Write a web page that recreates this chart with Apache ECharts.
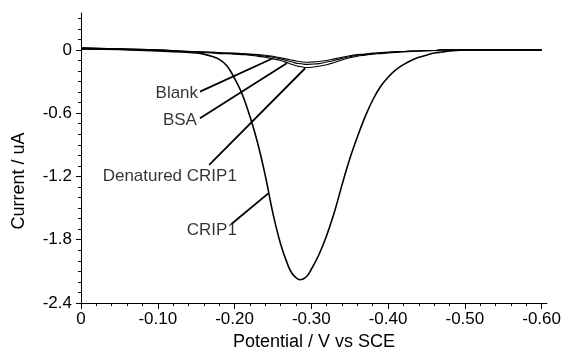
<!DOCTYPE html>
<html>
<head>
<meta charset="utf-8">
<script src="https://cdn.jsdelivr.net/npm/echarts@6/dist/echarts.min.js"></script>
<style>
  html, body { margin: 0; padding: 0; background: #fff; }
  #chart { width: 563px; height: 357px; }
</style>
</head>
<body>
<div id="chart"></div>
<script>
// potential (V vs SCE)
const potential = [0, -0.05, -0.10, -0.13, -0.15, -0.16, -0.17, -0.18, -0.19, -0.20,
  -0.21, -0.22, -0.23, -0.24, -0.25, -0.26, -0.27, -0.275, -0.28, -0.285, -0.29, -0.295,
  -0.30, -0.31, -0.32, -0.33, -0.34, -0.35, -0.36, -0.37, -0.38, -0.39,
  -0.40, -0.41, -0.42, -0.43, -0.44, -0.45, -0.46, -0.47, -0.48, -0.50,
  -0.55, -0.60];

// current (uA)
const crip1 = [0.01, 0.005, -0.01, -0.02, -0.03, -0.04, -0.06, -0.09, -0.15, -0.27,
  -0.42, -0.63, -0.88, -1.19, -1.55, -1.84, -2.05, -2.12, -2.16, -2.18, -2.17, -2.14,
  -2.08, -1.94, -1.76, -1.54, -1.28, -1.035, -0.825, -0.635, -0.475, -0.35,
  -0.26, -0.19, -0.14, -0.10, -0.07, -0.05, -0.03, -0.02, -0.01, 0,
  0, 0];
const blank = [0.02, 0.01, 0, -0.01, -0.015, -0.02, -0.02, -0.025, -0.03, -0.03,
  -0.035, -0.04, -0.045, -0.05, -0.06, -0.075, -0.09, -0.098, -0.105, -0.11, -0.115, -0.117,
  -0.115, -0.11, -0.10, -0.085, -0.07, -0.055, -0.045, -0.04, -0.03, -0.025,
  -0.02, -0.015, -0.015, -0.01, -0.01, -0.005, -0.005, 0, 0, 0,
  0, 0];
const bsa = [0.02, 0.01, 0, -0.01, -0.02, -0.02, -0.025, -0.03, -0.03, -0.035,
  -0.04, -0.045, -0.05, -0.06, -0.07, -0.085, -0.105, -0.115, -0.125, -0.13, -0.135, -0.137,
  -0.135, -0.13, -0.115, -0.10, -0.08, -0.065, -0.05, -0.045, -0.035, -0.03,
  -0.025, -0.02, -0.015, -0.01, -0.01, -0.005, -0.005, 0, 0, 0,
  0, 0];
const denatured = [0.01, 0.005, -0.005, -0.015, -0.02, -0.025, -0.03, -0.035, -0.035, -0.04,
  -0.045, -0.05, -0.06, -0.07, -0.085, -0.10, -0.125, -0.138, -0.15, -0.158, -0.165, -0.167,
  -0.165, -0.155, -0.14, -0.12, -0.095, -0.075, -0.06, -0.05, -0.04, -0.035,
  -0.03, -0.025, -0.02, -0.015, -0.01, -0.01, -0.005, 0, 0, 0,
  0, 0];

const xTicks = [0, -0.1, -0.2, -0.3, -0.4, -0.5, -0.6];
const xMinor = [-0.02, -0.04, -0.06, -0.08, -0.12, -0.14, -0.16, -0.18, -0.22, -0.24, -0.26, -0.28,
  -0.32, -0.34, -0.36, -0.38, -0.42, -0.44, -0.46, -0.48, -0.52, -0.54, -0.56, -0.58];
const yTicks = [-2.4, -1.8, -1.2, -0.6, 0];
const yMinor = [-2.3, -2.2, -2.1, -2.0, -1.9, -1.7, -1.6, -1.5, -1.4, -1.3, -1.1, -1.0, -0.9, -0.8, -0.7,
  -0.5, -0.4, -0.3, -0.2, -0.1, 0.1, 0.2, 0.3];

// annotations: text anchor (right edge, middle) and leader line ends
const labelNames = ['Blank', 'BSA', 'Denatured CRIP1', 'CRIP1'];
const labelAt = [[-0.1525, -0.413], [-0.151, -0.664], [-0.203, -1.202], [-0.203, -1.708]];
const leaderFrom = [[-0.155, -0.396], [-0.155, -0.648], [-0.167, -1.091], [-0.196, -1.651]];
const leaderTo = [[-0.250, -0.079], [-0.268, -0.126], [-0.292, -0.174], [-0.244, -1.360]];

const FONT = 'Liberation Sans, Arial, sans-serif';
const chart = echarts.init(document.getElementById('chart'));

const pairs = ys => potential.map((x, i) => [x, ys[i]]);

const lineSeries = (name, ys, width) => ({
  name: name,
  type: 'line',
  data: pairs(ys),
  smooth: 0.4,
  symbol: 'none',
  lineStyle: { color: '#000', width: width },
  silent: true,
  z: 3
});

const xMin = -0.607;
const yMax = 0.35;

const option = {
  backgroundColor: '#fff',
  animation: false,
  grid: { left: 81, right: 16, top: 13, bottom: 54, containLabel: false, outerBoundsMode: 'none' },
  xAxis: [
    {
      type: 'value',
      inverse: true,
      min: xMin,
      max: 0,
      position: 'bottom',
      name: 'Potential / V vs SCE',
      nameLocation: 'middle',
      nameGap: 30,
      nameTextStyle: { color: '#000', fontSize: 18, fontFamily: FONT },
      axisLine: { onZero: false, lineStyle: { color: '#000', width: 1 } },
      axisTick: { customValues: xTicks, length: 6, lineStyle: { color: '#000' } },
      axisLabel: {
        customValues: xTicks,
        margin: 8,
        color: '#000',
        fontSize: 17,
        fontFamily: FONT,
        hideOverlap: false,
        formatter: v => (v === 0 ? '0' : v.toFixed(2))
      },
      splitLine: { show: false }
    },
    {
      type: 'value',
      inverse: true,
      min: xMin,
      max: 0,
      position: 'bottom',
      axisLine: { show: false, onZero: false },
      axisTick: { customValues: xMinor, length: 3, lineStyle: { color: '#000' } },
      axisLabel: { show: false },
      splitLine: { show: false }
    }
  ],
  yAxis: [
    {
      type: 'value',
      min: -2.4,
      max: yMax,
      position: 'left',
      axisLine: { show: true, onZero: false, lineStyle: { color: '#000', width: 1 } },
      axisTick: { show: true, customValues: yTicks, length: 5, lineStyle: { color: '#000' } },
      axisLabel: {
        customValues: yTicks,
        margin: 9,
        color: '#000',
        fontSize: 17,
        fontFamily: FONT,
        formatter: v => (v === 0 ? '0' : v.toFixed(1))
      },
      splitLine: { show: false }
    },
    {
      type: 'value',
      min: -2.4,
      max: yMax,
      position: 'left',
      axisLine: { show: false, onZero: false },
      axisTick: { show: true, customValues: yMinor, length: 3, lineStyle: { color: '#000' } },
      axisLabel: { show: false },
      splitLine: { show: false }
    }
  ],
  graphic: [
    {
      type: 'text',
      x: 19,
      y: 181,
      rotation: Math.PI / 2,
      style: {
        text: 'Current / uA',
        fill: '#000',
        font: '18px ' + FONT,
        align: 'center',
        verticalAlign: 'middle'
      }
    }
  ],
  series: [
    lineSeries('Blank', blank, 1.1),
    lineSeries('BSA', bsa, 1.1),
    lineSeries('Denatured CRIP1', denatured, 1.1),
    lineSeries('CRIP1', crip1, 1.6),
    {
      name: 'labels',
      type: 'scatter',
      symbolSize: 0,
      silent: true,
      data: labelNames.map((n, i) => ({ value: labelAt[i], name: n })),
      label: {
        show: true,
        position: 'left',
        distance: 0,
        color: '#000',
        fontSize: 17,
        fontFamily: FONT,
        formatter: p => p.name
      },
      markLine: {
        silent: true,
        symbol: ['none', 'none'],
        label: { show: false },
        lineStyle: { color: '#000', width: 1.8, type: 'solid' },
        emphasis: { disabled: true },
        data: leaderFrom.map((f, i) => [{ coord: f }, { coord: leaderTo[i] }])
      },
      z: 4
    }
  ]
};

chart.setOption(option);
window.addEventListener('resize', () => chart.resize());
</script>
</body>
</html>
